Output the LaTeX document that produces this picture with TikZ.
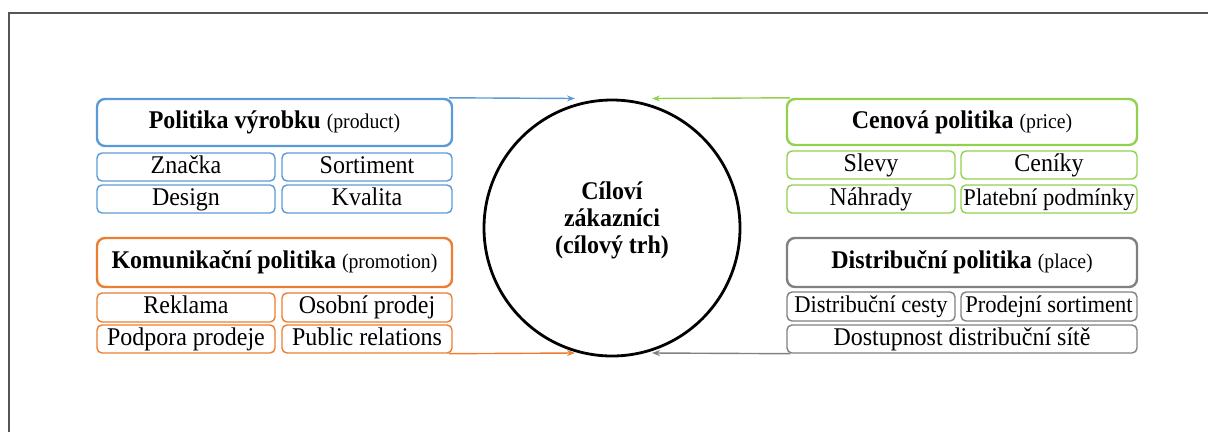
\documentclass[tikz,border=0pt]{standalone}
\usepackage{fontspec}
\setmainfont{Liberation Serif}[FakeStretch=0.94]
\usetikzlibrary{arrows.meta}

\definecolor{prodblue}{HTML}{5B9BD5}
\definecolor{promorange}{HTML}{ED7D31}
\definecolor{pricegreen}{HTML}{92D050}
\definecolor{placegray}{HTML}{808080}
\definecolor{framegray}{HTML}{555555}

\tikzset{
  hdrbox/.style={draw, line width=2.4pt, rounded corners=8pt, inner sep=0pt,
    text height=17pt, text depth=5pt, font=\fontsize{25.5}{28}\selectfont},
  itembox/.style={draw, line width=1.4pt, rounded corners=5pt, inner sep=0pt,
    minimum height=28pt, text height=17pt, text depth=5pt,
    font=\fontsize{25.5}{28}\selectfont},
  tightitem/.style={itembox, font=\fontsize{24}{28}\selectfont},
  flow/.style={line width=1.4pt, -{Stealth[length=8pt,width=6pt]}}
}
\newcommand{\hdrtext}[2]{\textbf{#1} {\fontsize{21}{24}\selectfont #2}}

\begin{document}
\begin{tikzpicture}[x=1pt,y=-1pt]
  \useasboundingbox (0,0) rectangle (1208,432);

  % page frame (top and left edges)
  \draw[framegray, line width=1.5pt] (9,432) -- (9,13) -- (1208,13);

  % customers in the middle
  \node[draw, circle, line width=2.8pt, minimum size=256pt] (cust) at (612,228) {};
  \node[align=center, font=\bfseries\fontsize{25.5}{27}\selectfont] (custtxt) at (612,220)
    {Cíloví\\zákazníci\\(cílový trh)};

  % product policy
  \begin{scope}[every node/.append style={draw=prodblue}]
    \node[hdrbox, minimum width=355pt, minimum height=47pt] (prod) at (274.5,122.5)
      {\hdrtext{Politika výrobku}{(product)}};
    \node[itembox, minimum width=178pt] (znacka) at (186,167) {Značka};
    \node[itembox, minimum width=170pt] (sort) at (367,167) {Sortiment};
    \node[itembox, minimum width=178pt] (design) at (186,199) {Design};
    \node[itembox, minimum width=170pt] (kval) at (367,199) {Kvalita};
  \end{scope}

  % promotion policy
  \begin{scope}[every node/.append style={draw=promorange}]
    \node[hdrbox, minimum width=355pt, minimum height=49pt] (prom) at (274.5,262.5)
      {\hdrtext{Komunikační politika}{(promotion)}};
    \node[itembox, minimum width=178pt, minimum height=29pt] (rekl) at (186,307.5) {Reklama};
    \node[itembox, minimum width=170pt, minimum height=29pt] (osob) at (367,307.5) {Osobní prodej};
    \node[itembox, minimum width=178pt] (podp) at (186,339) {Podpora prodeje};
    \node[itembox, minimum width=170pt] (pr) at (367,339) {Public relations};
  \end{scope}

  % price policy
  \begin{scope}[every node/.append style={draw=pricegreen}]
    \node[hdrbox, minimum width=350pt, minimum height=46pt] (price) at (962,122)
      {\hdrtext{Cenová politika}{(price)}};
    \node[itembox, minimum width=168pt] (slevy) at (871,165) {Slevy};
    \node[itembox, minimum width=176pt] (ceniky) at (1049,165) {Ceníky};
    \node[itembox, minimum width=168pt] (nahr) at (871,199) {Náhrady};
    \node[tightitem, minimum width=176pt] (plat) at (1049,199) {Platební podmínky};
  \end{scope}

  % place policy
  \begin{scope}[every node/.append style={draw=placegray}]
    \node[hdrbox, minimum width=350pt, minimum height=49pt] (place) at (962,262.5)
      {\hdrtext{Distribuční politika}{(place)}};
    \node[tightitem, minimum width=168pt, minimum height=29pt] (dcesty) at (871,306.5) {Distribuční cesty};
    \node[tightitem, minimum width=176pt, minimum height=29pt] (psort) at (1049,306.5) {Prodejní sortiment};
    \node[itembox, minimum width=350pt] (dost) at (962,339) {Dostupnost distribuční sítě};
  \end{scope}

  % arrow ends near the circle
  \coordinate (prodEnd) at (575,98.5);
  \coordinate (promEnd) at (575,353);
  \coordinate (priceEnd) at (652,98.5);
  \coordinate (placeEnd) at (652,353);

  \draw[flow, prodblue] (prod.north east) ++(-4,0) -- (prodEnd);
  \draw[flow, promorange] (pr.south east) ++(-4,0) -- (promEnd);
  \draw[flow, pricegreen] (price.north west) ++(4,0) -- (priceEnd);
  \draw[flow, placegray] (dost.south west) ++(4,0) -- (placeEnd);
\end{tikzpicture}
\end{document}
